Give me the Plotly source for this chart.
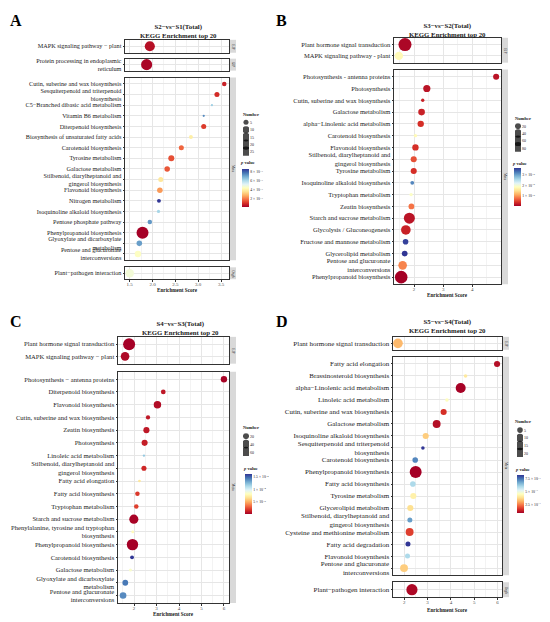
import plotly.graph_objects as go

# ---------------- A : S2-vs-S1 ----------------
a_terms = ["MAPK signaling pathway − plant", "Protein processing in endoplasmic<br>reticulum",
           "Cutin, suberine and wax biosynthesis", "Sesquiterpenoid and triterpenoid<br>biosynthesis",
           "C5−Branched dibasic acid metabolism", "Vitamin B6 metabolism", "Diterpenoid biosynthesis",
           "Biosynthesis of unsaturated fatty acids", "Carotenoid biosynthesis", "Tyrosine metabolism",
           "Galactose metabolism", "Stilbenoid, diarylheptanoid and<br>gingerol biosynthesis",
           "Flavonoid biosynthesis", "Nitrogen metabolism", "Isoquinoline alkaloid biosynthesis",
           "Pentose phosphate pathway", "Phenylpropanoid biosynthesis",
           "Glyoxylate and dicarboxylate<br>metabolism", "Pentose and glucuronate<br>interconversions",
           "Plant−pathogen interaction"]
a_class = ["EIP", "GIP"] + ["Meta"] * 17 + ["OrgS"]
a_score = [1.94, 1.87, 3.57, 3.41, 3.30, 3.12, 3.12, 2.84, 2.63, 2.41,
           2.32, 2.18, 2.16, 2.14, 2.13, 1.94, 1.78, 1.71, 1.68, 1.50]
a_number = [20, 24, 4, 5, 1, 1, 5, 3, 5, 7, 6, 5, 6, 3, 2, 4, 28, 6, 8, 14]
a_pvalue = [5e-4, 3e-4, 8e-4, 1.0e-3, 6.3e-3, 7.5e-3, 1.2e-3, 4.0e-3, 1.8e-3, 1.5e-3,
            1.6e-3, 3.8e-3, 2.5e-3, 8.67e-3, 6.2e-3, 7.3e-3, 2.2e-4, 7.2e-3, 4.5e-3, 4.8e-3]
a_breaks = [5, 10, 15, 20, 25]
a_pticks = [2e-3, 4e-3, 6e-3, 8e-3]
a_plabels = ["2 × 10<sup>−3</sup>", "4 × 10<sup>−3</sup>", "6 × 10<sup>−3</sup>", "8 × 10<sup>−3</sup>"]

# ---------------- B : S3-vs-S2 ----------------
b_terms = ["Plant hormone signal transduction", "MAPK signaling pathway - plant",
           "Photosynthesis - antenna proteins", "Photosynthesis", "Cutin, suberine and wax biosynthesis",
           "Galactose metabolism", "alpha−Linolenic acid metabolism", "Carotenoid biosynthesis",
           "Flavonoid biosynthesis", "Stilbenoid, diarylheptanoid and<br>gingerol biosynthesis",
           "Tyrosine metabolism", "Isoquinoline alkaloid biosynthesis", "Tryptophan metabolism",
           "Zeatin biosynthesis", "Starch and sucrose metabolism", "Glycolysis / Gluconeogenesis",
           "Fructose and mannose metabolism", "Glycerolipid metabolism",
           "Pentose and glucuronate<br>interconversions", "Phenylpropanoid biosynthesis"]
b_class = ["EIP"] * 2 + ["Meta"] * 18
b_score = [1.69, 1.48, 4.82, 2.44, 2.30, 2.26, 2.23, 2.05, 2.05, 1.99,
           1.99, 1.94, 1.90, 1.91, 1.84, 1.72, 1.71, 1.68, 1.61, 1.56]
b_number = [92, 38, 20, 28, 6, 24, 22, 6, 22, 20, 20, 8, 6, 18, 65, 50, 17, 18, 40, 85]
b_pvalue = [1e-6, 1.8e-5, 2e-6, 2e-6, 3e-6, 3e-6, 4e-6, 1.8e-5, 4e-6, 6e-6,
            4e-6, 3.2e-5, 1.9e-5, 8e-6, 2e-6, 3e-6, 3.6e-5, 3.67e-5, 9e-6, 5e-7]
b_breaks = [20, 40, 60, 80]
b_pticks = [1e-5, 2e-5, 3e-5]
b_plabels = ["1 × 10<sup>−5</sup>", "2 × 10<sup>−5</sup>", "3 × 10<sup>−5</sup>"]

# ---------------- C : S4-vs-S3 ----------------
c_terms = ["Plant hormone signal transduction", "MAPK signaling pathway − plant",
           "Photosynthesis − antenna proteins", "Diterpenoid biosynthesis", "Flavonoid biosynthesis",
           "Cutin, suberine and wax biosynthesis", "Zeatin biosynthesis", "Photosynthesis",
           "Linoleic acid metabolism", "Stilbenoid, diarylheptanoid and<br>gingerol biosynthesis",
           "Fatty acid elongation", "Fatty acid biosynthesis", "Tryptophan metabolism",
           "Starch and sucrose metabolism", "Phenylalanine, tyrosine and tryptophan<br>biosynthesis",
           "Phenylpropanoid biosynthesis", "Carotenoid biosynthesis", "Galactose metabolism",
           "Glyoxylate and dicarboxylate<br>metabolism", "Pentose and glucuronate<br>interconversions"]
c_class = ["EIP"] * 2 + ["Meta"] * 18
c_score = [1.78, 1.60, 6.00, 3.30, 3.04, 2.62, 2.55, 2.47, 2.44, 2.44,
           2.24, 2.15, 2.10, 1.99, 1.94, 1.93, 1.91, 1.84, 1.61, 1.51]
c_number = [78, 40, 22, 12, 30, 10, 20, 20, 3, 14, 4, 11, 11, 45, 4, 70, 8, 5, 18, 24]
c_pvalue = [2e-6, 5e-6, 3e-6, 1e-5, 6e-6, 1e-5, 1e-5, 1.2e-5, 1.2e-4, 1.5e-5,
            7e-5, 2e-5, 2.2e-5, 3e-6, 8e-5, 2e-6, 1.62e-4, 8.5e-5, 1.45e-4, 1.4e-4]
c_breaks = [20, 40, 60]
c_pticks = [5e-5, 1e-4, 1.5e-4]
c_plabels = ["5 × 10<sup>−5</sup>", "1 × 10<sup>−4</sup>", "1.5 × 10<sup>−4</sup>"]

# ---------------- D : S5-vs-S4 ----------------
d_terms = ["Plant hormone signal transduction", "Fatty acid elongation", "Brassinosteroid biosynthesis",
           "alpha−Linolenic acid metabolism", "Linoleic acid metabolism",
           "Cutin, suberine and wax biosynthesis", "Galactose metabolism",
           "Isoquinoline alkaloid biosynthesis", "Sesquiterpenoid and triterpenoid<br>biosynthesis",
           "Carotenoid biosynthesis", "Phenylpropanoid biosynthesis", "Fatty acid biosynthesis",
           "Tyrosine metabolism", "Glycerolipid metabolism",
           "Stilbenoid, diarylheptanoid and<br>gingerol biosynthesis", "Cysteine and methionine metabolism",
           "Fatty acid degradation", "Flavonoid biosynthesis",
           "Pentose and glucuronate<br>interconversions", "Plant−pathogen interaction"]
d_class = ["EIP"] + ["Meta"] * 18 + ["OrgS"]
d_score = [1.73, 5.98, 4.63, 4.42, 3.83, 3.69, 3.39, 2.92, 2.80, 2.47,
           2.49, 2.37, 2.39, 2.26, 2.24, 2.23, 2.16, 2.14, 1.99, 2.33]
d_number = [15, 6, 2, 16, 2, 6, 10, 6, 2, 5, 23, 5, 6, 6, 4, 10, 4, 4, 10, 20]
d_pvalue = [3.2e-3, 1.0e-3, 4.0e-3, 8e-4, 4.5e-3, 1.5e-3, 1.0e-3, 3.5e-3, 8.3e-3, 7.3e-3,
            7.7e-4, 6.0e-3, 4.2e-3, 3.8e-3, 7.0e-3, 1.7e-3, 8.3e-3, 6.0e-3, 3.5e-3, 9e-4]
d_breaks = [5, 10, 15, 20]
d_pticks = [2.5e-3, 5e-3, 7.5e-3]
d_plabels = ["2.5 × 10<sup>−3</sup>", "5 × 10<sup>−3</sup>", "7.5 × 10<sup>−3</sup>"]

# page body has an 8px margin, so the figure sits at (8, 8) in the window
OFF = 8
W, H = 550 - OFF, 622 - OFF
SERIF = "Liberation Serif"


def fx(x):
    return (x - OFF) / W


def fy(y):
    return 1 - (y - OFF) / H


def note(x, y, text, size, **kw):
    d = dict(x=fx(x), y=fy(y), xref="paper", yref="paper", text=text, showarrow=False,
             xanchor="center", yanchor="middle",
             font=dict(family=SERIF, size=size, color="#1a1a1a"))
    d.update(kw)
    return d


panels = [
    dict(letter="A", letter_xy=(8, 8.5), title="S2−vs−S1(Total)", title_xy=(178, 29.5),
         terms=a_terms, cls=a_class, score=a_score, number=a_number, pvalue=a_pvalue,
         breaks=a_breaks, pticks=a_pticks, plabels=a_plabels,
         xticks=[1.5, 2.0, 2.5, 3.0, 3.5], xfmt=".1f", minor=0.25, sizeref=0.39, fs=6.2,
         box=(125, 229), facets=[("EIP", 38, 51), ("GIP", 57, 69), ("Meta", 76, 260), ("OrgS", 267, 279)],
         xlab_y=289.5, leg=(243, 249, 117.25, 154.75), leg_title=(251, 113),
         cbar=(242, 168, 38), cbar_title=(247, 162)),
    dict(letter="B", letter_xy=(274, 8.5), title="S3−vs−S2(Total)", title_xy=(447, 28.5),
         terms=b_terms, cls=b_class, score=b_score, number=b_number, pvalue=b_pvalue,
         breaks=b_breaks, pticks=b_pticks, plabels=b_plabels,
         xticks=[2, 3, 4, 5], xfmt="d", minor=0.5, sizeref=1.08, fs=6.5,
         box=(394, 501), facets=[("EIP", 36, 61), ("Meta", 68, 284)],
         xlab_y=295, leg=(515, 521, 121.3, 150.7), leg_title=(523, 117),
         cbar=(514, 167, 38), cbar_title=(519, 163)),
    dict(letter="C", letter_xy=(8, 311), title="S4−vs−S3(Total)", title_xy=(180, 328),
         terms=c_terms, cls=c_class, score=c_score, number=c_number, pvalue=c_pvalue,
         breaks=c_breaks, pticks=c_pticks, plabels=c_plabels,
         xticks=[2, 3, 4, 5, 6], xfmt="d", minor=0.5, sizeref=1.08, fs=6.6,
         box=(118, 229), facets=[("EIP", 337, 364), ("Meta", 372, 605)],
         xlab_y=615.5, leg=(243, 249, 433, 457), leg_title=(251, 428),
         cbar=(245, 475, 40), cbar_title=(250, 470)),
    dict(letter="D", letter_xy=(274, 311), title="S5−vs−S4(Total)", title_xy=(447, 326.5),
         terms=d_terms, cls=d_class, score=d_score, number=d_number, pvalue=d_pvalue,
         breaks=d_breaks, pticks=d_pticks, plabels=d_plabels,
         xticks=[2, 3, 4, 5, 6], xfmt="d", minor=0.5, sizeref=0.32, fs=7.0,
         box=(393, 502), facets=[("EIP", 337, 350), ("Meta", 357, 577), ("OrgS", 584, 599)],
         xlab_y=612, leg=(517, 523, 427, 458), leg_title=(523, 422),
         cbar=(517, 476, 38), cbar_title=(522, 471)),
]

fig = go.Figure()
layout = {}
annotations = []
shapes = []
n = 0

for k, p in enumerate(panels):
    cax = "coloraxis" if k == 0 else f"coloraxis{k + 1}"
    lo, hi = min(p["score"]), max(p["score"])
    pad = (hi - lo) * 0.05
    xr = [lo - pad, hi + pad]
    x0, x1 = p["box"]

    for j, (cls, top, bot) in enumerate(p["facets"]):
        n += 1
        sfx = "" if n == 1 else str(n)
        idx = [i for i, c in enumerate(p["cls"]) if c == cls]
        terms = [p["terms"][i] for i in idx]
        fig.add_trace(go.Scatter(
            x=[p["score"][i] for i in idx], y=terms, mode="markers",
            xaxis="x" + sfx, yaxis="y" + sfx, showlegend=False,
            marker=dict(size=[p["number"][i] for i in idx], sizemode="area",
                        sizeref=p["sizeref"], sizemin=1,
                        color=[p["pvalue"][i] for i in idx], coloraxis=cax,
                        line=dict(width=0), opacity=1)))
        last = j == len(p["facets"]) - 1
        layout["xaxis" + sfx] = dict(
            domain=[fx(x0), fx(x1)], anchor="y" + sfx, range=xr,
            tickvals=p["xticks"], tickformat=p["xfmt"], showticklabels=last,
            ticks="outside" if last else "", ticklen=1.5, tickwidth=0.5, tickcolor="#333333",
            ticklabelstandoff=-2,
            tickfont=dict(family=SERIF, size=5, color="#4d4d4d"),
            showgrid=True, gridcolor="#e6e6e6", gridwidth=0.5,
            minor=dict(dtick=p["minor"], showgrid=True, gridcolor="#f3f3f3", gridwidth=0.4),
            zeroline=False, showline=True, linecolor="#333333", linewidth=0.8, mirror=True,
            fixedrange=True)
        layout["yaxis" + sfx] = dict(
            domain=[fy(bot), fy(top)], anchor="x" + sfx, type="category",
            categoryorder="array", categoryarray=terms, range=[len(terms) - 0.4, -0.6],
            tickmode="array", tickvals=terms,
            ticks="outside", ticklen=1.5, tickwidth=0.5, tickcolor="#333333",
            tickfont=dict(family=SERIF, size=p["fs"], color="#1a1a1a"),
            showgrid=True, gridcolor="#e6e6e6", gridwidth=0.5,
            zeroline=False, showline=True, linecolor="#333333", linewidth=0.8, mirror=True,
            fixedrange=True)
        # facet strip on the right
        shapes.append(dict(type="rect", xref="paper", yref="paper",
                           x0=fx(x1 + 1), x1=fx(x1 + 7), y0=fy(bot), y1=fy(top),
                           fillcolor="#d9d9d9", line=dict(width=0)))
        annotations.append(note(x1 + 4, (top + bot) / 2, cls, 3.5, textangle=90))

    # size legend ("Number")
    n += 1
    sfx = str(n)
    br = p["breaks"]
    labels = [str(b) for b in br]
    lx0, lx1, ly0, ly1 = p["leg"]
    fig.add_trace(go.Scatter(
        x=[0] * len(br), y=labels, mode="markers", xaxis="x" + sfx, yaxis="y" + sfx,
        showlegend=False, hoverinfo="skip",
        marker=dict(size=br, sizemode="area", sizeref=p["sizeref"], sizemin=1,
                    color="black", line=dict(width=0))))
    layout["xaxis" + sfx] = dict(domain=[fx(lx0), fx(lx1)], anchor="y" + sfx, range=[-1, 1],
                                 visible=False, fixedrange=True)
    layout["yaxis" + sfx] = dict(domain=[fy(ly1), fy(ly0)], anchor="x" + sfx, side="right",
                                 type="category", categoryorder="array", categoryarray=labels,
                                 range=[len(br) - 0.5, -0.5], tickmode="array", tickvals=labels,
                                 showgrid=False, zeroline=False, showline=False, ticks="",
                                 tickfont=dict(family=SERIF, size=4, color="#1a1a1a"),
                                 fixedrange=True)
    annotations.append(note(p["leg_title"][0], p["leg_title"][1], "<b>Number</b>", 4.5))

    # colour bar (p value)
    cx, cy, clen = p["cbar"]
    layout[cax] = dict(
        colorscale="RdYlBu", cmin=min(p["pvalue"]), cmax=max(p["pvalue"]),
        colorbar=dict(x=fx(cx), xanchor="left", y=fy(cy), yanchor="top",
                      len=clen, lenmode="pixels", thickness=7, thicknessmode="pixels",
                      xpad=0, ypad=0, outlinewidth=0, ticks="",
                      tickvals=p["pticks"], ticktext=p["plabels"],
                      tickfont=dict(family=SERIF, size=3.8, color="#1a1a1a")))
    annotations.append(note(p["cbar_title"][0], p["cbar_title"][1], "<b><i>p</i> value</b>", 4.5))

    # titles, x label, panel letter
    annotations.append(note(p["title_xy"][0], p["title_xy"][1],
                            "<b>" + p["title"] + "<br>KEGG Enrichment top 20</b>", 6.8))
    annotations.append(note((x0 + x1) / 2, p["xlab_y"], "<b>Enrichment Score</b>", 5.2))
    annotations.append(note(p["letter_xy"][0], p["letter_xy"][1], "<b>" + p["letter"] + "</b>", 16,
                            xanchor="left", yanchor="top"))
    annotations[-1]["font"]["color"] = "black"

fig.update_layout(
    width=W, height=H, margin=dict(l=0, r=0, t=0, b=0),
    paper_bgcolor="white", plot_bgcolor="white",
    font=dict(family=SERIF),
    annotations=annotations, shapes=shapes, **layout)

fig.write_html("out.html")
